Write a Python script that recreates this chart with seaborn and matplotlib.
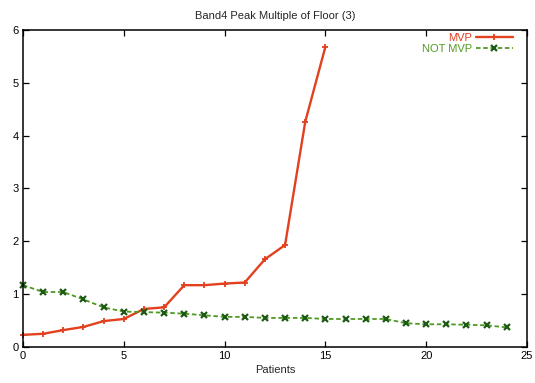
import matplotlib
matplotlib.use("Agg")
import matplotlib.pyplot as plt
import seaborn as sns
import pandas as pd

# Data
mvp_x = list(range(16))
mvp_y = [0.23, 0.25, 0.32, 0.38, 0.49, 0.53, 0.72, 0.75, 1.17, 1.17, 1.20, 1.22,
         1.66, 1.93, 4.26, 5.68]
notmvp_x = list(range(25))
notmvp_y = [1.17, 1.04, 1.04, 0.90, 0.75, 0.67, 0.66, 0.65, 0.63, 0.60, 0.57, 0.57,
            0.55, 0.55, 0.55, 0.53, 0.53, 0.53, 0.53, 0.45, 0.43, 0.43, 0.42, 0.41, 0.37]
x_ticks = [0, 5, 10, 15, 20, 25]
y_ticks = [0, 1, 2, 3, 4, 5, 6]
title = "Band4 Peak Multiple of Floor (3)"
xlabel = "Patients"
labels = ["MVP", "NOT MVP"]

sns.set_theme(style="white")
plt.rcParams['font.family'] = ['Liberation Sans', 'DejaVu Sans']

df_mvp = pd.DataFrame({"x": mvp_x, "y": mvp_y})
df_not = pd.DataFrame({"x": notmvp_x, "y": notmvp_y})

fig = plt.figure(figsize=(5.35, 3.83), dpi=100)
ax = fig.add_axes([0.043, 0.094, 0.942, 0.828])

red = "#e2401e"
green = "#4f9a22"
dkgreen = "#1f5a16"

sns.lineplot(data=df_mvp, x="x", y="y", ax=ax, color=red, linewidth=1.7,
             marker="+", markersize=5, markeredgewidth=1.3, markeredgecolor=red,
             label=labels[0], clip_on=False)
sns.lineplot(data=df_not, x="x", y="y", ax=ax, color=green, linewidth=1.3,
             linestyle=(0, (2.5, 1.5)), marker="x", markersize=4.5, markeredgewidth=1.6,
             markeredgecolor=dkgreen, label=labels[1], clip_on=False)

ax.set_xlim(0, 25)
ax.set_ylim(0, 6)
ax.set_xticks(x_ticks)
ax.set_yticks(y_ticks)
ax.tick_params(direction="in", length=4, width=0.9, labelsize=8, colors="black",
               top=True, right=True, bottom=True, left=True, pad=3)
ax.set_xticklabels([str(t) for t in x_ticks])
ax.set_yticklabels([str(t) for t in y_ticks])
for s in ax.spines.values():
    s.set_color("black")
    s.set_linewidth(1.1)
    s.set_visible(True)

ax.set_title(title, fontsize=8, pad=8)
ax.set_xlabel(xlabel, fontsize=8, labelpad=3)
ax.set_ylabel("")

leg = ax.legend(loc="upper right", frameon=False, markerfirst=False,
                labelcolor="linecolor", fontsize=8, handlelength=3.3,
                handletextpad=0.4, labelspacing=0.05, alignment="right",
                borderaxespad=0.2, bbox_to_anchor=(0.985, 1.01))

fig.savefig("out.png", dpi=100)
